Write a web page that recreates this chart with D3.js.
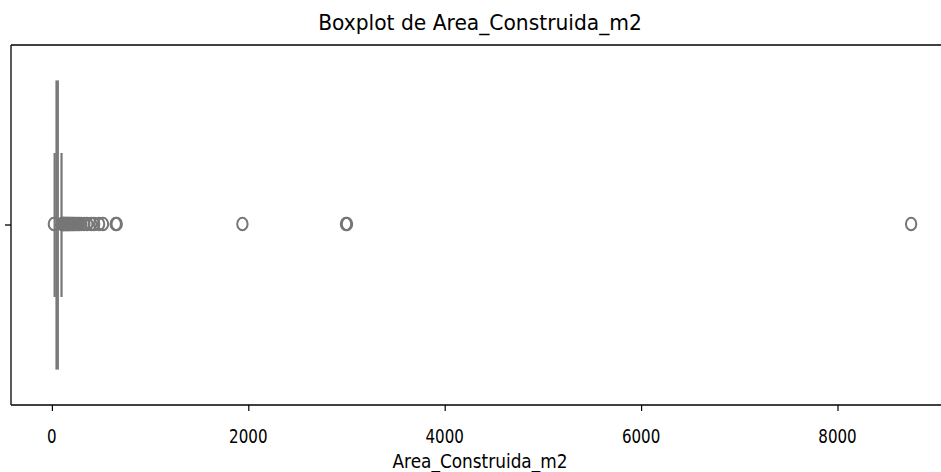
<!DOCTYPE html>
<html>
<head>
<meta charset="utf-8">
<script src="https://cdn.jsdelivr.net/npm/d3@7"></script>
<style>
	body { margin: 0; background: #fff; }
	svg text { font-family: "DejaVu Sans", sans-serif; fill: #000; }
</style>
</head>
<body>
<div id="chart"></div>
<script>
// boxplot summary (m2)
var boxStats = [42, 52, 65];          // q1, median, q3
var whiskers = [28, 98];              // low, high
var outliers = [20, 105, 110, 115, 120, 128, 135, 142, 150, 158, 165, 172, 180, 190,
	200, 210, 220, 235, 250, 265, 280, 300, 330, 360, 400, 430, 480, 520, 650, 660,
	1940, 2995, 3005, 8750];
var xTicks = [0, 2000, 4000, 6000, 8000];
var dataExtent = [20, 8750];

var W = 941, H = 472;
var plot = {left: 11, top: 45, bottom: 405, right: 954};
var grey = "#767676";

var svg = d3.select("#chart").append("svg")
	.attr("width", W)
	.attr("height", H);

// matplotlib style 5% margins
var span = dataExtent[1] - dataExtent[0];
var x = d3.scaleLinear()
	.domain([dataExtent[0] - 0.05 * span, dataExtent[1] + 0.05 * span])
	.range([plot.left, plot.right]);

var y = d3.scaleLinear().domain([-0.5, 0.5]).range([plot.top, plot.bottom]);

// squeeze text horizontally to a target width (the picture was squashed)
function fitText(sel, target) {
	var len = sel.node().getComputedTextLength();
	var ax = +sel.attr("x"), ay = +sel.attr("y");
	var k = target / len;
	sel.attr("transform", "translate(" + ax + "," + ay + ") scale(" + k + ",1) translate(" + (-ax) + "," + (-ay) + ")");
}

// box
var g = svg.append("g");
var boxHalf = 0.4, capHalf = 0.2;

g.append("line")
	.attr("x1", x(whiskers[0])).attr("x2", x(boxStats[0]))
	.attr("y1", y(0)).attr("y2", y(0))
	.attr("stroke", grey).attr("stroke-width", 2);
g.append("line")
	.attr("x1", x(boxStats[2])).attr("x2", x(whiskers[1]))
	.attr("y1", y(0)).attr("y2", y(0))
	.attr("stroke", grey).attr("stroke-width", 2);

whiskers.forEach(function(w) {
	g.append("line")
		.attr("x1", x(w)).attr("x2", x(w))
		.attr("y1", y(-capHalf)).attr("y2", y(capHalf))
		.attr("stroke", grey).attr("stroke-width", 2.2);
});

g.append("rect")
	.attr("x", x(boxStats[0]))
	.attr("y", y(-boxHalf))
	.attr("width", x(boxStats[2]) - x(boxStats[0]))
	.attr("height", y(boxHalf) - y(-boxHalf))
	.attr("fill", "#8a8a8a")
	.attr("stroke", grey).attr("stroke-width", 1.2);

g.append("line")
	.attr("x1", x(boxStats[1])).attr("x2", x(boxStats[1]))
	.attr("y1", y(-boxHalf)).attr("y2", y(boxHalf))
	.attr("stroke", grey).attr("stroke-width", 1.2);

// fliers
g.selectAll("ellipse.flier")
	.data(outliers)
	.enter().append("ellipse")
	.attr("class", "flier")
	.attr("cx", function(d) { return x(d); })
	.attr("cy", y(0) - 1)
	.attr("rx", 5.2)
	.attr("ry", 6.3)
	.attr("fill", "none")
	.attr("stroke", grey)
	.attr("stroke-width", 2);

// spines
var frame = svg.append("g").attr("stroke", "#000").attr("stroke-width", 1.3);
frame.append("line").attr("x1", plot.left).attr("x2", plot.right).attr("y1", plot.top).attr("y2", plot.top);
frame.append("line").attr("x1", plot.left).attr("x2", plot.right).attr("y1", plot.bottom).attr("y2", plot.bottom);
frame.append("line").attr("x1", plot.left).attr("x2", plot.left).attr("y1", plot.top).attr("y2", plot.bottom);

// y tick (single category, no label)
frame.append("line").attr("x1", plot.left - 6).attr("x2", plot.left).attr("y1", y(0)).attr("y2", y(0));

// x axis
var xAxis = d3.axisBottom(x).tickValues(xTicks).tickSize(6).tickFormat(d3.format("d"));
var ax = svg.append("g")
	.attr("transform", "translate(0," + plot.bottom + ")")
	.call(xAxis);
ax.select(".domain").remove();
ax.selectAll(".tick line").attr("stroke", "#000").attr("stroke-width", 1.2);
ax.selectAll(".tick text").remove();

xTicks.forEach(function(t) {
	var lab = svg.append("text")
		.attr("x", x(t)).attr("y", 443)
		.attr("text-anchor", "middle")
		.style("font-size", "19px")
		.text(d3.format("d")(t));
	fitText(lab, String(t).length * 9.6);
});

var xl = svg.append("text")
	.attr("x", 480).attr("y", 468)
	.attr("text-anchor", "middle")
	.style("font-size", "19px")
	.text("Area_Construida_m2");
fitText(xl, 175);

var title = svg.append("text")
	.attr("x", 480).attr("y", 30)
	.attr("text-anchor", "middle")
	.style("font-size", "22px")
	.text("Boxplot de Area_Construida_m2");
fitText(title, 324);
</script>
</body>
</html>
